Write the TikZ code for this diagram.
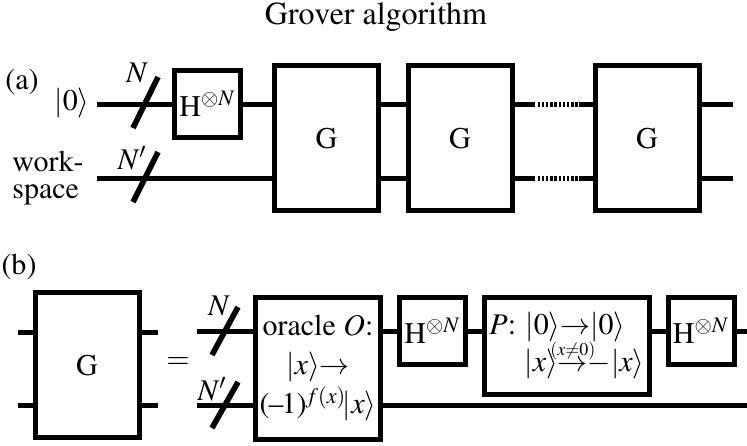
\documentclass[tikz,border=0pt]{standalone}
\usepackage{amsmath}
\usepackage[T1]{fontenc}
\usepackage{mathptmx}
\usetikzlibrary{calc}

\newcommand{\condarrow}{\ooalign{$\rightarrow$\cr
  \hidewidth\raisebox{8pt}{$\scriptscriptstyle(x\neq0)$}\hidewidth\cr}}

\begin{document}
\begin{tikzpicture}[
      x=0.5pt, y=-0.5pt,
      wire/.style={line width=2.5pt},
      dotwire/.style={line width=2.5pt, dash pattern=on 1.2pt off 0.9pt},
      slash/.style={line width=2.8pt},
      txt/.style={font=\fontsize{15}{18}\selectfont, inner sep=0pt},
      gate/.style={draw, line width=2.5pt, fill=white, inner sep=0pt,
        font=\fontsize{15}{18}\selectfont},
      hgate/.style={gate, minimum width=33pt, minimum height=33.5pt},
      ggate/.style={gate, minimum width=52pt, minimum height=72.5pt}
    ]
    \useasboundingbox (0,0) rectangle (747,445);
    \node[txt, font=\fontsize{16}{18}\selectfont] (title) at (376,17) {Grover algorithm};

    % (a) whole circuit
    \node[txt] (lbla) at (22,82) {(a)};
    \node[txt] (ket0) at (72,103) {$|0\rangle$};
    \node[txt, align=left, font=\fontsize{15}{13.5}\selectfont] (work) at (48,178) {work-\\space};
    \coordinate (ta) at (97,104);
    \coordinate (ba) at (97,178);
    \coordinate (outa) at (733,104);
    \node[hgate] (H1) at (207.5,104) {H$^{\otimes N}$};
    \node[ggate] (G1) at (326.5,138) {G};
    \node[ggate] (G2) at (460,138) {G};
    \node[ggate] (G3) at (647,138) {G};
    \draw[wire] (ta) -- (H1.west);
    \draw[wire] (H1.east) -- (H1.east -| G1.west);
    \draw[wire] (ba) -- (ba -| G1.west);
    \foreach \w in {ta,ba} {
      \draw[wire] (G1.east |- \w) -- (G2.west |- \w);
      \draw[wire] (G2.east |- \w) -- ($(G2.east |- \w)+(20,0)$);
      \draw[dotwire] ($(G2.east |- \w)+(23,0)$) -- ($(G3.west |- \w)+(-14,0)$);
      \draw[wire] ($(G3.west |- \w)+(-14,0)$) -- (G3.west |- \w);
      \draw[wire] (G3.east |- \w) -- (outa |- \w);
    }
    \draw[slash] (133,128) -- (158,77);
    \draw[slash] (133,202) -- (158,152);
    \node[txt] (na) at (137,73) {$N$};
    \node[txt] (npa) at (132,158) {$N'$};

    % (b) one Grover step
    \node[txt] (lblb) at (19,267) {(b)};
    \coordinate (tb) at (18,332);
    \coordinate (bb) at (18,405);
    \node[ggate] (Gb) at (87,365) {G};
    \draw[wire] (tb) -- (tb -| Gb.west);
    \draw[wire] (bb) -- (bb -| Gb.west);
    \draw[wire] (Gb.east |- tb) -- ($(Gb.east |- tb)+(16,0)$);
    \draw[wire] (Gb.east |- bb) -- ($(Gb.east |- bb)+(16,0)$);
    \node[txt] (eq) at (178,363) {$=$};

    \coordinate (tr) at (197,331);
    \coordinate (br) at (197,405);
    \coordinate (endt) at (747,331);
    \coordinate (endb) at (747,405);
    \node[gate, minimum width=62.5pt, minimum height=71pt, align=center,
      font=\fontsize{15}{19.5}\selectfont] (orc) at (318,368.5)
      {oracle $O$:\\${|x\rangle}{\rightarrow}$\\
       (\kern-0.5pt--\kern-1pt1)$^{\mkern-1mu f(x)}\mkern-2mu|x\rangle$};
    \node[hgate] (H2) at (432.5,331) {H$^{\otimes N}$};
    \node[gate, minimum width=82.5pt, minimum height=48.5pt, align=left,
      font=\fontsize{15}{18.5}\selectfont] (P) at (567,346)
      {$P$: ${|0\rangle}{\rightarrow}{|0\rangle}$\\
       \hspace*{17.5pt}${|x\rangle}$\condarrow${-|x\rangle}$};
    \node[hgate] (H3) at (701,331) {H$^{\otimes N}$};
    \draw[wire] (tr) -- (tr -| orc.west);
    \draw[wire] (orc.east |- tr) -- (H2.west);
    \draw[wire] (H2.east) -- (H2.east -| P.west);
    \draw[wire] (H2.east -| P.east) -- (H3.west);
    \draw[wire] (H3.east) -- (endt);
    \draw[wire] (br) -- (br -| orc.west);
    \draw[wire] (orc.east |- br) -- (endb);
    \draw[slash] (212,355) -- (238,307);
    \draw[slash] (212,428) -- (238,382);
    \node[txt] (nb) at (219,306) {$N$};
    \node[txt] (npb) at (212,389) {$N'$};
  \end{tikzpicture}
\end{document}
